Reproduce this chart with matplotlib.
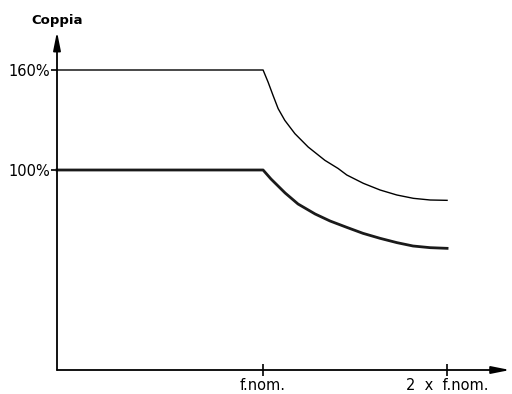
import matplotlib.pyplot as plt

# Torque limit curves (percent of nominal torque) vs frequency (units of f.nom)
upper_freq = [1.0, 1.027, 1.054, 1.082, 1.118, 1.173, 1.245, 1.336, 1.408,
              1.455, 1.545, 1.636, 1.727, 1.817, 1.908, 2.0]
upper_torque = [160, 152.8, 144.8, 136.8, 129.8, 121.8, 113.8, 105.8, 100.9,
                97.0, 92.0, 88.0, 85.0, 83.0, 82.0, 81.8]

lower_freq = [1.0, 1.043, 1.120, 1.190, 1.283, 1.364, 1.457, 1.543, 1.636,
              1.728, 1.815, 1.908, 2.0]
lower_torque = [100, 94.6, 86.2, 79.6, 73.6, 69.4, 65.5, 62.0, 59.0,
                56.4, 54.4, 53.4, 53.0]

y_ticks = [100, 160]
y_labels = ['100%', '160%']
x_ticks = [1, 2]
x_labels = ['f.nom.', '2  x  f.nom.']


def main():
    fig = plt.figure(figsize=(5.12, 3.94), dpi=100)
    ax = fig.add_axes([57 / 512, 24 / 394, (510 - 57) / 512, (394 - 24 - 35) / 394])

    xmin, xmax = -0.12, 2.342
    ymin, ymax = -20, 181
    ax.set_xlim(xmin, xmax)
    ax.set_ylim(ymin, ymax)

    # flat part from the axis, then the falling part
    ax.plot([xmin] + upper_freq, [upper_torque[0]] + upper_torque,
            color='black', lw=1.0, solid_joinstyle='round', clip_on=False)
    ax.plot([xmin] + lower_freq, [lower_torque[0]] + lower_torque,
            color='#1a1a1a', lw=2.0, solid_joinstyle='round', clip_on=False)

    # axes as arrows
    for s in ax.spines.values():
        s.set_visible(False)
    arrow = dict(arrowstyle='-|>,head_length=1.1,head_width=0.22',
                 color='black', lw=1.3, shrinkA=0, shrinkB=0)
    ax.annotate('', xy=(xmax, ymin), xytext=(xmin, ymin),
                arrowprops=arrow, annotation_clip=False)
    ax.annotate('', xy=(xmin, ymax + 2), xytext=(xmin, ymin),
                arrowprops=arrow, annotation_clip=False)

    ax.set_yticks(y_ticks)
    ax.set_yticklabels(y_labels)
    ax.set_xticks(x_ticks)
    ax.set_xticklabels(x_labels)
    ax.tick_params(axis='y', direction='out', length=4, width=1.2, pad=1,
                   labelsize=10.5)
    ax.tick_params(axis='x', direction='inout', length=8, width=1.2, pad=2,
                   labelsize=10.5)

    ax.text(xmin, 187.6, 'Coppia', ha='center', va='baseline', fontsize=9.5,
            fontweight='bold')

    fig.savefig('out.png', dpi=100)


if __name__ == "__main__":
    main()
